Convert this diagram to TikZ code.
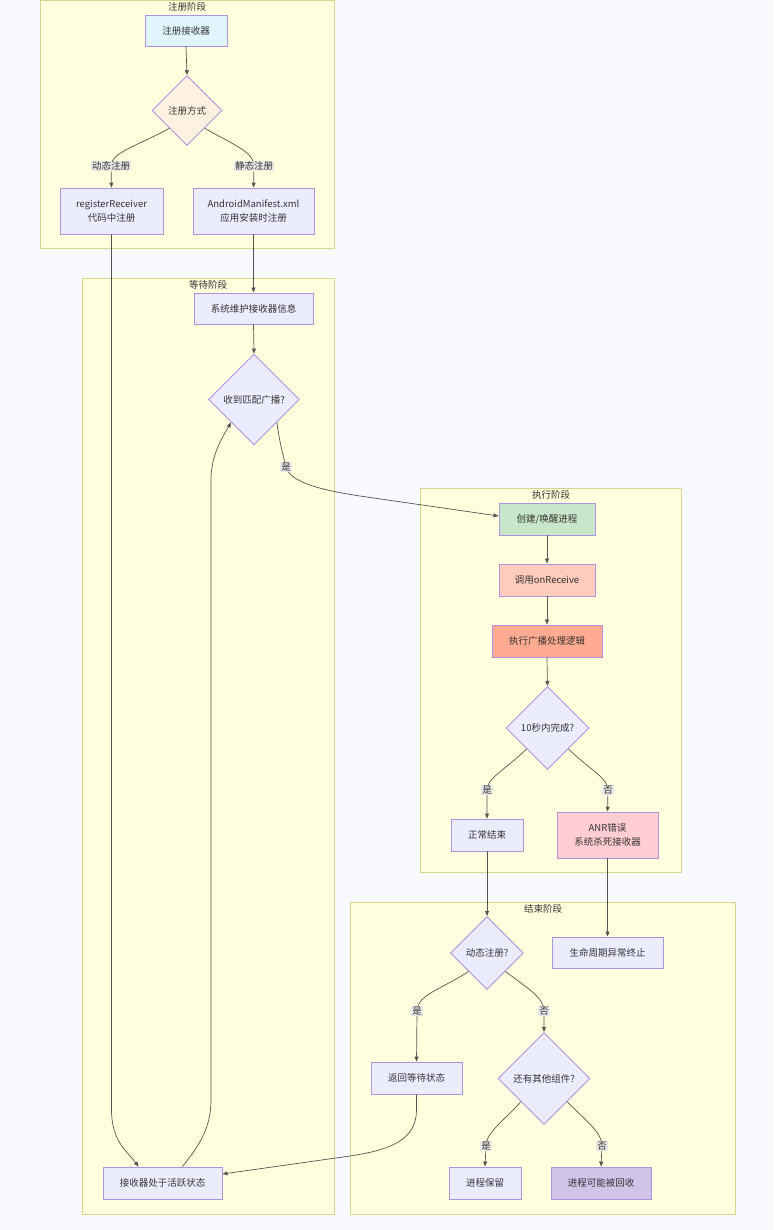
\documentclass[tikz,border=0pt]{standalone}
\usepackage{fontspec}
\setmainfont{Noto Sans CJK SC}
\usetikzlibrary{shapes.geometric,arrows.meta,calc}
\definecolor{bgc}{HTML}{F8F9FC}
\definecolor{clfill}{HTML}{FFFFDE}
\definecolor{clbd}{HTML}{D6D68E}
\definecolor{nfill}{HTML}{ECECFF}
\definecolor{nbd}{HTML}{AE92E2}
\definecolor{txt}{HTML}{333333}
\definecolor{edgec}{HTML}{555555}
\definecolor{lblbg}{HTML}{E8E8E8}
\definecolor{cblue}{HTML}{E1F5FE}
\definecolor{corange}{HTML}{FFF0E0}
\definecolor{cgreen}{HTML}{C8E6C9}
\definecolor{csalmon}{HTML}{FFCCBC}
\definecolor{cdeep}{HTML}{FFAB91}
\definecolor{cpink}{HTML}{FFCDD2}
\definecolor{cpurple}{HTML}{D1C4E9}
\tikzset{
  cluster/.style={draw=clbd, fill=clfill, line width=0.9pt},
  ctitle/.style={text=txt, font=\fontsize{9.5}{11}\selectfont, inner sep=0pt},
  box/.style={rectangle, draw=nbd, fill=nfill, line width=0.9pt, text=txt, inner sep=0pt, align=center, font=\fontsize{9.5}{14}\selectfont},
  dia/.style={diamond, aspect=1, draw=nbd, fill=nfill, line width=0.9pt, text=txt, inner sep=0pt, font=\fontsize{9.5}{12}\selectfont},
  edge/.style={draw=edgec, line width=0.7pt, -{Triangle[length=5pt,width=4pt]}},
  lbl/.style={fill=lblbg, text=txt, inner sep=1pt, font=\fontsize{9.5}{11}\selectfont}
}
\begin{document}
\begin{tikzpicture}[x=1pt,y=-1pt]
\path[fill=bgc] (0,0) rectangle (773,1230);
\useasboundingbox (0,0) rectangle (773,1230);
% clusters
\draw[cluster] (40,0.5) rectangle (334,248);
\draw[cluster] (82,278) rectangle (334,1214);
\draw[cluster] (420,488) rectangle (681,872);
\draw[cluster] (350,902) rectangle (735,1214);
\node[ctitle] (c1) at (187,7) {注册阶段};
\node[ctitle] (c2) at (208,285) {等待阶段};
\node[ctitle] (c3) at (551,495) {执行阶段};
\node[ctitle] (c4) at (543,909) {结束阶段};
% nodes
\node[box, fill=cblue, minimum width=82pt, minimum height=31pt] (reg0) at (186,30.5) {注册接收器};
\node[dia, fill=corange, minimum width=70pt, minimum height=70pt] (fangshi) at (187,110.5) {注册方式};
\node[box, minimum width=103pt, minimum height=46pt] (rr) at (111.5,211) {registerReceiver\\代码中注册};
\node[box, minimum width=121pt, minimum height=46pt] (am) at (253.5,211) {AndroidManifest.xml\\应用安装时注册};
\node[box, minimum width=119pt, minimum height=31pt] (sys) at (253.5,308.5) {系统维护接收器信息};
\node[dia, minimum width=91pt, minimum height=91pt] (recv) at (254,399.5) {收到匹配广播?};
\node[box, fill=cgreen, minimum width=96pt, minimum height=32pt] (create) at (547,519) {创建/唤醒进程};
\node[box, fill=csalmon, minimum width=96pt, minimum height=32pt] (call) at (547,580) {调用onReceive};
\node[box, fill=cdeep, minimum width=110pt, minimum height=32pt] (exec) at (547,641) {执行广播处理逻辑};
\node[dia, minimum width=83pt, minimum height=83pt] (ten) at (547.5,728) {10秒内完成?};
\node[box, minimum width=72pt, minimum height=32pt] (normal) at (487,835) {正常结束};
\node[box, fill=cpink, minimum width=101pt, minimum height=46pt] (anr) at (607.5,835) {ANR错误\\系统杀死接收器};
\node[dia, minimum width=73pt, minimum height=73pt] (dyn) at (487,953) {动态注册?};
\node[box, minimum width=111pt, minimum height=31pt] (life) at (607.5,952.5) {生命周期异常终止};
\node[box, minimum width=91pt, minimum height=32pt] (ret) at (416.5,1078) {返回等待状态};
\node[dia, minimum width=92pt, minimum height=92pt] (other) at (544,1078.5) {还有其他组件?};
\node[box, minimum width=72pt, minimum height=32pt] (keep) at (485,1183) {进程保留};
\node[box, fill=cpurple, minimum width=100pt, minimum height=32pt] (recyc) at (601,1183) {进程可能被回收};
\node[box, minimum width=119pt, minimum height=32pt] (active) at (162.5,1183) {接收器处于活跃状态};
% label anchors
\coordinate (l1) at (111,166);
\coordinate (l2) at (254,166);
\coordinate (l3) at (286,467);
\coordinate (l4) at (487,790);
\coordinate (l5) at (608,790);
\coordinate (l6) at (417,1011);
\coordinate (l7) at (544,1011);
\coordinate (l8) at (486,1146);
\coordinate (l9) at (602,1146);
% edges
\draw[edge] (reg0.south) -- (fangshi.north);
\draw[edge] (fangshi.south west) .. controls (140,145) and (111,152) .. (l1) -- (rr.north);
\draw[edge] (fangshi.south east) .. controls (234,145) and (254,152) .. (l2) -- (am.north);
\draw[edge] (rr.south) -- (111.5,1110) .. controls (111.5,1142) and (128,1152) .. ($(active.north west)+(36,0)$);
\draw[edge] (am.south) -- (sys.north);
\draw[edge] (sys.south) -- (recv.north);
\draw[edge] (recv.south east) .. controls (279,440) and (283,455) .. (l3) .. controls (290,482) and (320,490) .. (360,496) -- ($(create.west)+(0,-3)$);
\draw[edge] (create.south) -- (call.north);
\draw[edge] (call.south) -- (exec.north);
\draw[edge] (exec.south) -- (ten.north);
\draw[edge] (ten.south west) .. controls (505,770) and (487,778) .. (l4) -- (normal.north);
\draw[edge] (ten.south east) .. controls (590,770) and (608,778) .. (l5) -- (anr.north);
\draw[edge] (normal.south) -- (dyn.north);
\draw[edge] (anr.south) -- (life.north);
\draw[edge] (dyn.south west) .. controls (440,990) and (417,995) .. (l6) -- (ret.north);
\draw[edge] (dyn.south east) .. controls (530,990) and (544,998) .. (l7) -- (other.north);
\draw[edge] (other.south west) .. controls (505,1120) and (486,1132) .. (l8) -- (keep.north);
\draw[edge] (other.south east) .. controls (585,1120) and (602,1132) .. (l9) -- (recyc.north);
\draw[edge] (ret.south) -- (416.5,1110) .. controls (416.5,1140) and (390,1150) .. (350,1156) -- ($(active.east)+(0,-9)$);
\draw[edge] ($(active.north west)+(80,0)$) .. controls (195,1150) and (211,1132) .. (211,1100) -- (211,480) .. controls (211,455) and (222,438) .. (recv.south west);
% labels
\node[lbl] (t1) at (l1) {动态注册};
\node[lbl] (t2) at (l2) {静态注册};
\node[lbl] (t3) at (l3) {是};
\node[lbl] (t4) at (l4) {是};
\node[lbl] (t5) at (l5) {否};
\node[lbl] (t6) at (l6) {是};
\node[lbl] (t7) at (l7) {否};
\node[lbl] (t8) at (l8) {是};
\node[lbl] (t9) at (l9) {否};
\end{tikzpicture}
\end{document}
